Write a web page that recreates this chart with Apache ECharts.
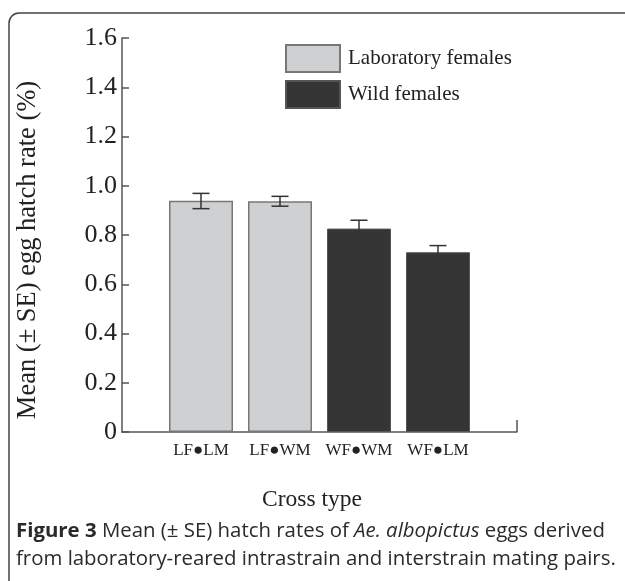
<!DOCTYPE html>
<html>
<head>
<meta charset="utf-8">
<script src="https://cdn.jsdelivr.net/npm/echarts@6/dist/echarts.min.js"></script>
<style>html,body{margin:0;padding:0;background:#fff;}#c{width:625px;height:581px;}</style>
</head>
<body>
<div id="c"></div>
<script>
var categories = ['', 'LF\u25CFLM', 'LF\u25CFWM', 'WF\u25CFWM', 'WF\u25CFLM', ''];
var labFemales = ['-', 0.939, 0.937, '-', '-', '-'];
var wildFemales = ['-', '-', '-', 0.826, 0.730, '-'];
var errors = [[1, 0.907, 0.969], [2, 0.917, 0.957], [3, 0.792, 0.860], [4, 0.703, 0.757]];
var yTicks = [0, 0.2, 0.4, 0.6, 0.8, 1.0, 1.2, 1.4, 1.6];

var serif = '"Liberation Serif", "Times New Roman", serif';
var chart = echarts.init(document.getElementById('c'));
chart.setOption({
  animation: false,
  grid: {left: 122, right: 108, top: 38, bottom: 149},
  legend: {
    orient: 'vertical', left: 280, top: 39, itemWidth: 54, itemHeight: 27, itemGap: 7,
    icon: 'rect', data: ['Laboratory females', 'Wild females'],
    textStyle: {fontFamily: serif, fontSize: 21, color: '#222', padding: [0, 0, 0, 3]}
  },
  xAxis: {
    type: 'category', data: categories, boundaryGap: false,
    axisLine: {lineStyle: {color: '#555', width: 1.5}},
    axisTick: {show: true, inside: true, length: 12, lineStyle: {color: '#555', width: 1.5},
      interval: function (i) { return i === categories.length - 1; }},
    axisLabel: {fontFamily: serif, fontSize: 17, color: '#222', margin: 10, interval: 0}
  },
  yAxis: {
    type: 'value', min: 0, max: 1.6, interval: 0.2,
    axisLine: {show: true, lineStyle: {color: '#555', width: 1.5}},
    axisTick: {show: true, inside: true, length: 7, lineStyle: {color: '#555', width: 1.5}},
    splitLine: {show: false},
    axisLabel: {fontFamily: serif, fontSize: 26, color: '#222', margin: 5,
      formatter: function (v) { return v === 0 ? '0' : v.toFixed(1); }}
  },
  series: [
    {name: 'Laboratory females', type: 'bar', data: labFemales, barWidth: 64, barGap: '-100%',
      itemStyle: {color: '#cfd0d2', borderColor: '#777', borderWidth: 1.5}},
    {name: 'Wild females', type: 'bar', data: wildFemales, barWidth: 64, barGap: '-100%',
      itemStyle: {color: '#353535', borderColor: '#555', borderWidth: 1}},
    {type: 'custom', data: errors, z: 10,
      renderItem: function (params, api) {
        var x = api.value(0);
        var lo = api.coord([x, api.value(1)]);
        var hi = api.coord([x, api.value(2)]);
        var hw = 8.5;
        var st = {stroke: '#333', lineWidth: 1.5};
        return {type: 'group', children: [
          {type: 'line', shape: {x1: lo[0], y1: lo[1], x2: hi[0], y2: hi[1]}, style: st},
          {type: 'line', shape: {x1: hi[0] - hw, y1: hi[1], x2: hi[0] + hw, y2: hi[1]}, style: st},
          {type: 'line', shape: {x1: lo[0] - hw, y1: lo[1], x2: lo[0] + hw, y2: lo[1]}, style: st}
        ]};
      }}
  ],
  graphic: [
    {type: 'rect', shape: {x: 9, y: 13, width: 640, height: 600, r: 10},
      style: {fill: 'none', stroke: '#444', lineWidth: 1.5}, silent: true},
    {type: 'text', x: 28, y: 250, rotation: Math.PI / 2,
      style: {text: 'Mean (\u00B1 SE) egg hatch rate (%)', fontFamily: serif, fontSize: 26.5, fill: '#222',
        align: 'center', verticalAlign: 'middle'}},
    {type: 'text', x: 312, y: 500,
      style: {text: 'Cross type', fontFamily: serif, fontSize: 23.5, fill: '#222',
        align: 'center', verticalAlign: 'middle'}},
    {type: 'text', x: 16, y: 517,
      style: {
        text: '{b|Figure 3} Mean (\u00B1 SE) hatch rates of {i|Ae. albopictus} eggs derived\nfrom laboratory-reared intrastrain and interstrain mating pairs.',
        fontFamily: '"Open Sans", sans-serif', fontSize: 20.4, fill: '#2a2a2a', lineHeight: 28,
        verticalAlign: 'top',
        rich: {
          b: {fontFamily: '"Open Sans", sans-serif', fontSize: 20.4, fontWeight: 'bold', fill: '#2a2a2a', lineHeight: 28},
          i: {fontFamily: '"Open Sans", sans-serif', fontSize: 20.4, fontStyle: 'italic', fill: '#2a2a2a', lineHeight: 28}
        }
      }}
  ]
});
</script>
</body>
</html>
